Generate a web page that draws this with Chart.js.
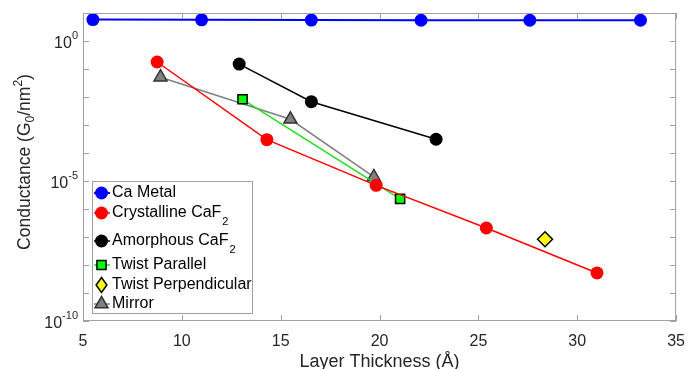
<!DOCTYPE html>
<html><head><meta charset="utf-8">
<script src="https://cdn.jsdelivr.net/npm/chart.js@4/dist/chart.umd.min.js"></script>
<style>html,body{margin:0;padding:0;background:#fff}#wrap{width:688px;height:369px}</style>
</head><body><div id="wrap"><canvas id="c" width="688" height="369"></canvas></div>
<script>
const caMetalX = [5.5, 11.0, 16.55, 22.1, 27.6, 33.2];
const caMetalY = [5.8, 5.7, 5.6, 5.5, 5.5, 5.5];
const crystX = [8.75, 14.3, 19.83, 25.4, 31.0];
const crystY = [0.178, 3.0e-4, 7.0e-6, 2.1e-7, 5.2e-9];
const amorphX = [12.9, 16.55, 22.86];
const amorphY = [0.15, 6.8e-3, 3.1e-4];
const twistParX = [13.07, 21.04];
const twistParY = [8.3e-3, 2.3e-6];
const twistPerpX = [28.37];
const twistPerpY = [8.3e-8];
const mirrorX = [8.92, 15.49, 19.71];
const mirrorY = [0.051, 1.6e-3, 1.4e-5];
const xTicks = [5, 10, 15, 20, 25, 30, 35];
const yLabelExps = [0, -5, -10];
const yDecades = [1, 0, -1, -2, -3, -4, -5, -6, -7, -8, -9, -10];

const FONT = '"Liberation Sans", Arial, sans-serif';
const pts = (xs, ys) => xs.map((x, i) => ({x: x, y: ys[i]}));

const datasets = [
  {label: 'Ca Metal', data: pts(caMetalX, caMetalY), borderColor: '#0000ff', backgroundColor: '#0000ff', borderWidth: 2,
   pointStyle: 'circle', pointRadius: 6.5, pointBorderWidth: 0, pointBorderColor: '#0000ff', sub: null},
  {label: 'Crystalline CaF', sub: '2', data: pts(crystX, crystY), borderColor: '#ff0000', backgroundColor: '#ff0000', borderWidth: 1.5,
   pointStyle: 'circle', pointRadius: 6.5, pointBorderWidth: 0, pointBorderColor: '#ff0000'},
  {label: 'Amorphous CaF', sub: '2', data: pts(amorphX, amorphY), borderColor: '#000000', backgroundColor: '#000000', borderWidth: 1.5,
   pointStyle: 'circle', pointRadius: 6.5, pointBorderWidth: 0, pointBorderColor: '#000000'},
  {label: 'Twist Parallel', sub: null, data: pts(twistParX, twistParY), borderColor: '#22dd22', backgroundColor: '#00ff00', borderWidth: 1.5,
   pointStyle: 'rect', pointRadius: 6.5, pointBorderWidth: 1.5, pointBorderColor: '#000000'},
  {label: 'Twist Perpendicular', sub: null, data: pts(twistPerpX, twistPerpY), borderColor: '#000000', backgroundColor: '#ffff00', borderWidth: 1.5,
   pointStyle: 'rectRot', pointRadius: 7.5, pointBorderWidth: 1.5, pointBorderColor: '#000000', showLine: false},
  {label: 'Mirror', sub: null, data: pts(mirrorX, mirrorY), borderColor: '#808080', backgroundColor: '#808080', borderWidth: 1.5,
   pointStyle: 'triangle', pointRadius: 7.5, pointBorderWidth: 1.5, pointBorderColor: '#333333'}
];
datasets.forEach(d => { d.pointBackgroundColor = d.backgroundColor; d.tension = 0; d.fill = false; });

const legendRowY = [193, 213, 241, 265, 285, 304];

function drawMarker(ctx, style, r, x, y) {
  if (style === 'circle') { ctx.arc(x, y, r, 0, Math.PI * 2); }
  else if (style === 'rect') { const h = r * 0.7; ctx.rect(x - h, y - h, h * 2, h * 2); }
  else if (style === 'rectRot') { ctx.moveTo(x, y - r); ctx.lineTo(x + r * 0.72, y); ctx.lineTo(x, y + r); ctx.lineTo(x - r * 0.72, y); ctx.closePath(); }
  else if (style === 'triangle') { ctx.moveTo(x, y - r); ctx.lineTo(x + r * 0.87, y + r * 0.5); ctx.lineTo(x - r * 0.87, y + r * 0.5); ctx.closePath(); }
}

const custom = {
  id: 'custom',
  afterDraw(chart) {
    const ctx = chart.ctx, a = chart.chartArea, xs = chart.scales.x, ys = chart.scales.y;
    ctx.save();
    ctx.strokeStyle = '#a0a0a0'; ctx.lineWidth = 1;
    ctx.strokeRect(a.left + 0.5, a.top + 0.5, a.right - a.left - 1, a.bottom - a.top - 1);
    xTicks.forEach(v => {
      const px = Math.round(xs.getPixelForValue(v)) + 0.5;
      ctx.beginPath(); ctx.moveTo(px, a.bottom); ctx.lineTo(px, a.bottom - 6);
      ctx.moveTo(px, a.top); ctx.lineTo(px, a.top + 6); ctx.stroke();
    });
    yDecades.forEach(e => {
      const py = Math.round(ys.getPixelForValue(Math.pow(10, e))) + 0.5;
      ctx.beginPath(); ctx.moveTo(a.left, py); ctx.lineTo(a.left + 6, py);
      ctx.moveTo(a.right, py); ctx.lineTo(a.right - 6, py); ctx.stroke();
    });
    ctx.fillStyle = '#262626';
    yLabelExps.forEach(e => {
      const py = ys.getPixelForValue(Math.pow(10, e));
      const exp = String(e);
      ctx.font = '11px ' + FONT;
      const ew = ctx.measureText(exp).width;
      const right = a.left - 5;
      ctx.textBaseline = 'alphabetic'; ctx.textAlign = 'left';
      ctx.fillText(exp, right - ew, py - 2);
      ctx.font = '16px ' + FONT;
      const bw = ctx.measureText('10').width;
      ctx.fillText('10', right - ew - bw, py + 7);
    });
    ctx.save();
    ctx.translate(25, 162);
    ctx.rotate(-Math.PI / 2);
    const parts = [['Conductance (G', 17.5, 0], ['0', 12, 4], ['/nm', 17.5, 0], ['2', 12, -8], [')', 17.5, 0]];
    let tw = 0;
    parts.forEach(p => { ctx.font = p[1] + 'px ' + FONT; tw += ctx.measureText(p[0]).width; });
    let cx = -tw / 2;
    ctx.textBaseline = 'alphabetic';
    parts.forEach(p => { ctx.font = p[1] + 'px ' + FONT; ctx.fillText(p[0], cx, 5 + p[2]); cx += ctx.measureText(p[0]).width; });
    ctx.restore();
    ctx.fillStyle = '#ffffff';
    ctx.fillRect(92, 181, 160, 132);
    ctx.strokeStyle = '#a0a0a0'; ctx.lineWidth = 1;
    ctx.strokeRect(92.5, 181.5, 160, 132);
    chart.data.datasets.forEach((d, i) => {
      const y = legendRowY[i];
      if (d.showLine !== false) {
        ctx.strokeStyle = d.borderColor; ctx.lineWidth = d.borderWidth;
        ctx.beginPath(); ctx.moveTo(94, y); ctx.lineTo(110, y); ctx.stroke();
      }
      ctx.fillStyle = d.pointBackgroundColor; ctx.strokeStyle = d.pointBorderColor; ctx.lineWidth = d.pointBorderWidth;
      ctx.beginPath();
      drawMarker(ctx, d.pointStyle, d.pointRadius, 101.5, y);
      ctx.fill(); if (d.pointBorderWidth > 0) ctx.stroke();
      ctx.fillStyle = '#000000'; ctx.font = '16px ' + FONT; ctx.textBaseline = 'middle'; ctx.textAlign = 'left';
      ctx.fillText(d.label, 112, y);
      if (d.sub) {
        const w = ctx.measureText(d.label).width;
        ctx.font = '11px ' + FONT;
        ctx.fillText(d.sub, 112 + w + 1, y + 9);
      }
    });
    ctx.restore();
  }
};

new Chart(document.getElementById('c'), {
  type: 'line',
  data: {datasets: datasets},
  options: {
    responsive: false, animation: false, devicePixelRatio: 1,
    layout: {padding: {left: 0, top: 13, right: 3, bottom: 0}},
    plugins: {legend: {display: false}, tooltip: {enabled: false}},
    scales: {
      x: {type: 'linear', min: 5, max: 35,
        afterBuildTicks: s => { s.ticks = xTicks.map(v => ({value: v})); },
        afterFit: s => { s.height = 48; },
        grid: {display: false}, border: {display: false},
        ticks: {color: '#262626', font: {size: 16, family: FONT}, padding: 3},
        title: {display: true, text: 'Layer Thickness (Å)', color: '#262626', font: {size: 18, family: FONT}, padding: {top: 0, bottom: -4}}},
      y: {type: 'logarithmic', min: 1e-10, max: 10,
        afterFit: s => { s.width = 83; },
        grid: {display: false}, border: {display: false},
        ticks: {display: false}}
    }
  },
  plugins: [custom]
});
</script></body></html>
